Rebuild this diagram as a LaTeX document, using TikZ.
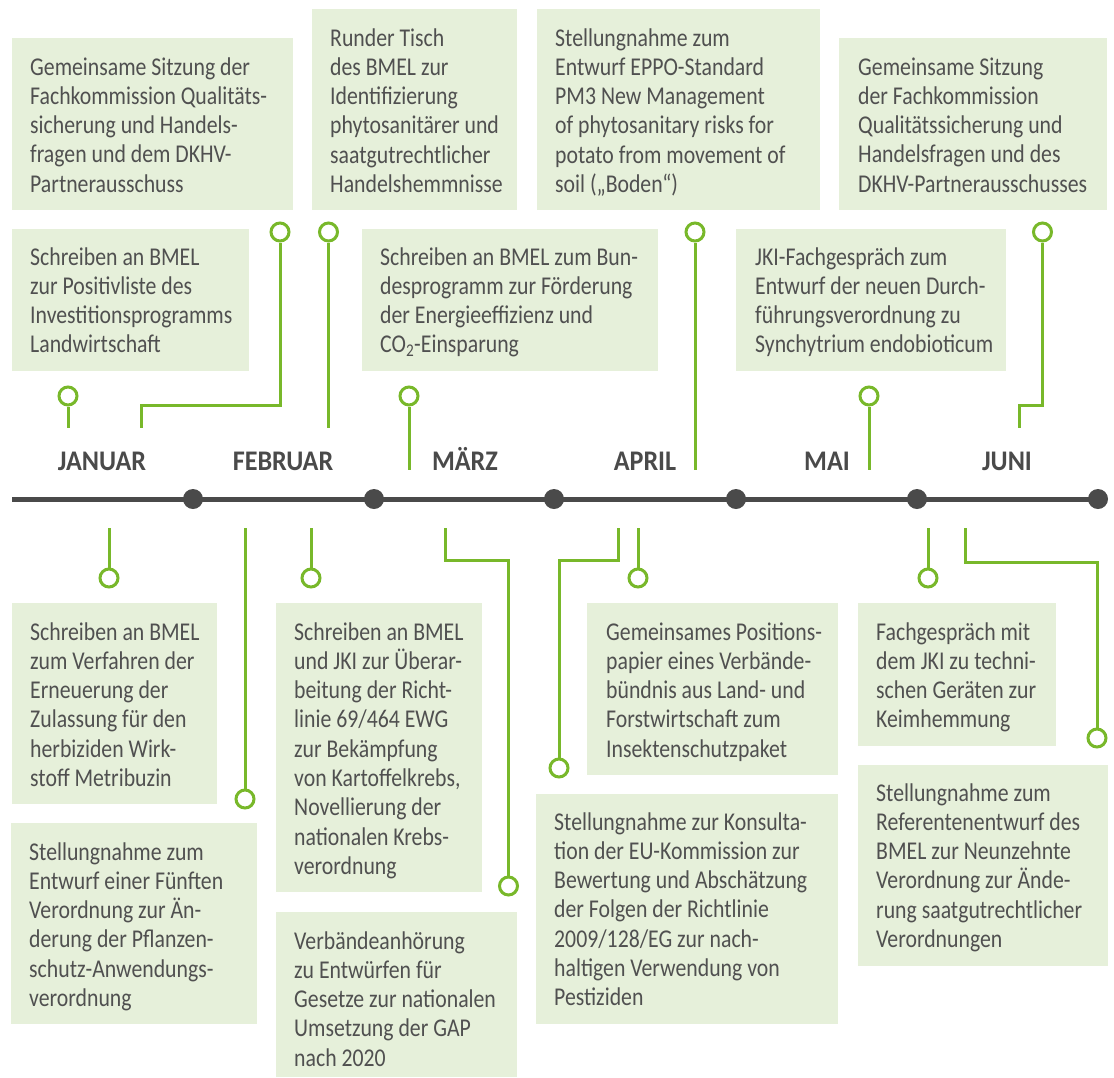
\documentclass[tikz,border=0pt]{standalone}
\usepackage{fontspec}
\setmainfont[FakeStretch=0.85]{Carlito}
\newfontfamily\monatfont[FakeStretch=0.92]{Carlito}
\usepackage{xcolor}
\definecolor{feldgruen}{HTML}{E6F0DA}
\definecolor{liniengruen}{HTML}{78B82A}
\definecolor{dunkelgrau}{HTML}{4A4A4A}
\definecolor{textgrau}{HTML}{505050}
\tikzset{
	mytimeline/.style = {x=1pt, y=-1pt},
	feld/.style = {fill=feldgruen, anchor=north west, inner sep=0pt},
	% base west = Grundlinie der letzten Zeile
	feldtext/.style = {anchor=base west, align=left, inner sep=0pt, text=textgrau,
		font=\fontsize{25.6}{29.3}\selectfont},
	kreis/.style = {circle, draw=liniengruen, line width=3pt, fill=white,
		minimum size=18pt, inner sep=0pt},
	linie/.style = {draw=liniengruen, line width=3pt},
	achse/.style = {draw=dunkelgrau, line width=5pt},
	punkt/.style = {circle, fill=dunkelgrau, minimum size=20pt, inner sep=0pt},
	monat/.style = {anchor=base, text=dunkelgrau,
		font=\monatfont\bfseries\fontsize{28.4}{30}\selectfont},
}

\begin{document}
\begin{tikzpicture}[mytimeline]
	\useasboundingbox (0,0) rectangle (1114,1077);

	% Felder oben
	\node[feld, minimum width=281pt, minimum height=172pt] (bA) at (12,38) {};
	\node[feldtext] (tA) at ([shift={(18,154.2)}]bA.north west)
		{Gemeinsame Sitzung der\\Fachkommission Qualitäts-\\sicherung und Handels-\\fragen und dem DKHV-\\Partnerausschuss};
	\node[feld, minimum width=205pt, minimum height=201pt] (bB) at (312,9) {};
	\node[feldtext] (tB) at ([shift={(18,183.5)}]bB.north west)
		{Runder Tisch\\des BMEL zur\\Identifizierung\\phytosanitärer und\\saatgutrechtlicher\\Handelshemmnisse};
	\node[feld, minimum width=283pt, minimum height=201pt] (bC) at (537,9) {};
	\node[feldtext] (tC) at ([shift={(18,183.5)}]bC.north west)
		{Stellungnahme zum\\Entwurf EPPO-Standard\\PM3 New Management\\of phytosanitary risks for\\potato from movement of\\soil („Boden“)};
	\node[feld, minimum width=268pt, minimum height=172pt] (bD) at (839,38) {};
	\node[feldtext] (tD) at ([shift={(19,154.2)}]bD.north west)
		{Gemeinsame Sitzung\\der Fachkommission\\Qualitätssicherung und\\Handelsfragen und des\\DKHV-Partnerausschusses};
	\node[feld, minimum width=237pt, minimum height=142pt] (bE) at (12,229) {};
	\node[feldtext] (tE) at ([shift={(18,123.9)}]bE.north west)
		{Schreiben an BMEL\\zur Positivliste des\\Investitionsprogramms\\Landwirtschaft};
	\node[feld, minimum width=296pt, minimum height=142pt] (bF) at (362,229) {};
	\node[feldtext] (tF) at ([shift={(18,123.9)}]bF.north west)
		{Schreiben an BMEL zum Bun-\\desprogramm zur Förderung\\der Energieeffizienz und\\CO\textsubscript{2}-Einsparung};
	\node[feld, minimum width=270pt, minimum height=142pt] (bG) at (736,229) {};
	\node[feldtext] (tG) at ([shift={(19,123.9)}]bG.north west)
		{JKI-Fachgespräch zum\\Entwurf der neuen Durch-\\führungsverordnung zu\\Synchytrium endobioticum};

	% Felder unten
	\node[feld, minimum width=205pt, minimum height=201pt] (bH) at (12,603) {};
	\node[feldtext] (tH) at ([shift={(18,183.5)}]bH.north west)
		{Schreiben an BMEL\\zum Verfahren der\\Erneuerung der\\Zulassung für den\\herbiziden Wirk-\\stoff Metribuzin};
	\node[feld, minimum width=246pt, minimum height=201pt] (bI) at (11,823) {};
	\node[feldtext] (tI) at ([shift={(18,183.5)}]bI.north west)
		{Stellungnahme zum\\Entwurf einer Fünften\\Verordnung zur Än-\\derung der Pflanzen-\\schutz-Anwendungs-\\verordnung};
	\node[feld, minimum width=206pt, minimum height=289pt] (bJ) at (276,603) {};
	\node[feldtext] (tJ) at ([shift={(18,271.4)}]bJ.north west)
		{Schreiben an BMEL\\und JKI zur Überar-\\beitung der Richt-\\linie 69/464 EWG\\zur Bekämpfung\\von Kartoffelkrebs,\\Novellierung der\\nationalen Krebs-\\verordnung};
	\node[feld, minimum width=241pt, minimum height=165pt] (bK) at (276,912) {};
	\node[feldtext] (tK) at ([shift={(18,154.2)}]bK.north west)
		{Verbändeanhörung\\zu Entwürfen für\\Gesetze zur nationalen\\Umsetzung der GAP\\nach 2020};
	\node[feld, minimum width=302pt, minimum height=230pt] (bL) at (536,794) {};
	\node[feldtext] (tL) at ([shift={(18,211.8)}]bL.north west)
		{Stellungnahme zur Konsulta-\\tion der EU-Kommission zur\\Bewertung und Abschätzung\\der Folgen der Richtlinie\\2009/128/EG zur nach-\\haltigen Verwendung von\\Pestiziden};
	\node[feld, minimum width=251pt, minimum height=172pt] (bM) at (587,603) {};
	\node[feldtext] (tM) at ([shift={(19,154.2)}]bM.north west)
		{Gemeinsames Positions-\\papier eines Verbände-\\bündnis aus Land- und\\Forstwirtschaft zum\\Insektenschutzpaket};
	\node[feld, minimum width=198pt, minimum height=143pt] (bN) at (858,603) {};
	\node[feldtext] (tN) at ([shift={(18,124.9)}]bN.north west)
		{Fachgespräch mit\\dem JKI zu techni-\\schen Geräten zur\\Keimhemmung};
	\node[feld, minimum width=250pt, minimum height=201pt] (bO) at (858,765) {};
	\node[feldtext] (tO) at ([shift={(18,182.5)}]bO.north west)
		{Stellungnahme zum\\Referentenentwurf des\\BMEL zur Neunzehnte\\Verordnung zur Ände-\\rung saatgutrechtlicher\\Verordnungen};

	% Zeitachse
	\coordinate (start) at (12,499);
	\node[punkt] (d1) at (193,499) {};
	\node[punkt] (d2) at (374,499) {};
	\node[punkt] (d3) at (554,499) {};
	\node[punkt] (d4) at (736,499) {};
	\node[punkt] (d5) at (917,499) {};
	\node[punkt] (d6) at (1098,499) {};
	\draw[achse] (start) -- (d6.center);

	\node[monat] (mJan) at (102,470) {JANUAR};
	\node[monat] (mFeb) at (283,470) {FEBRUAR};
	\node[monat] (mMar) at (465,470) {MÄRZ};
	\node[monat] (mApr) at (645,470) {APRIL};
	\node[monat] (mMai) at (827,470) {MAI};
	\node[monat] (mJun) at (1007,470) {JUNI};

	% Verbindungen oben
	\node[kreis] (cA) at (280,232) {};
	\node[kreis] (cB) at (328.5,232) {};
	\node[kreis] (cC) at (695,232) {};
	\node[kreis] (cD) at (1042.5,232) {};
	\node[kreis] (cE) at (68,396) {};
	\node[kreis] (cF) at (409,396) {};
	\node[kreis] (cG) at (869,396) {};
	\coordinate (jA) at (141,405);
	\coordinate (eA) at (141,428);
	\coordinate (eB) at (328.5,428);
	\coordinate (eC) at (695,470);
	\coordinate (jD) at (1019,405);
	\coordinate (eD) at (1019,428);
	\coordinate (eE) at (68,428);
	\coordinate (eF) at (409,470);
	\coordinate (eG) at (869,470);
	\draw[linie] (cA.south) |- (jA) -- (eA);
	\draw[linie] (cB.south) -- (eB);
	\draw[linie] (cC.south) -- (eC);
	\draw[linie] (cD.south) |- (jD) -- (eD);
	\draw[linie] (cE.south) -- (eE);
	\draw[linie] (cF.south) -- (eF);
	\draw[linie] (cG.south) -- (eG);

	% Verbindungen unten
	\node[kreis] (cH) at (109,578) {};
	\node[kreis] (cI) at (245,799) {};
	\node[kreis] (cJ) at (311,578) {};
	\node[kreis] (cK) at (508.5,886) {};
	\node[kreis] (cL) at (559,768) {};
	\node[kreis] (cM) at (638,578) {};
	\node[kreis] (cN) at (928,578) {};
	\node[kreis] (cO) at (1097,738) {};
	\coordinate (eH) at (109,528);
	\coordinate (eI) at (245,528);
	\coordinate (eJ) at (311,528);
	\coordinate (jK) at (445,560);
	\coordinate (eK) at (445,528);
	\coordinate (jL) at (618,560);
	\coordinate (eL) at (618,528);
	\coordinate (eM) at (638,528);
	\coordinate (eN) at (928,528);
	\coordinate (jO) at (965,562);
	\coordinate (eO) at (965,528);
	\draw[linie] (cH.north) -- (eH);
	\draw[linie] (cI.north) -- (eI);
	\draw[linie] (cJ.north) -- (eJ);
	\draw[linie] (cK.north) |- (jK) -- (eK);
	\draw[linie] (cL.north) |- (jL) -- (eL);
	\draw[linie] (cM.north) -- (eM);
	\draw[linie] (cN.north) -- (eN);
	\draw[linie] (cO.north) |- (jO) -- (eO);
\end{tikzpicture}
\end{document}
